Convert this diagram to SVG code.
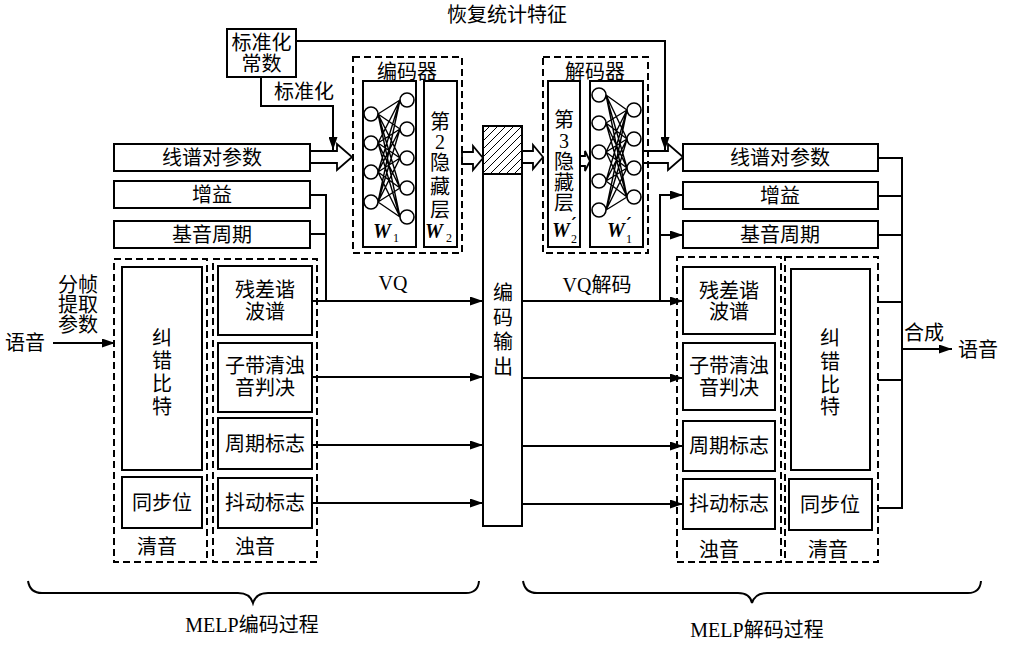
<svg xmlns="http://www.w3.org/2000/svg" width="1011" height="652" viewBox="0 0 1011 652">
<defs>
<style>
text{font-family:"Liberation Serif","Noto Sans CJK SC",serif;font-size:20px;fill:#000;text-anchor:middle;dominant-baseline:central}
.box{fill:#fff;stroke:#000;stroke-width:2}
.dash{fill:none;stroke:#000;stroke-width:2;stroke-dasharray:7,4}
.ln{fill:none;stroke:#000;stroke-width:2}
.hol{fill:#fff;stroke:#000;stroke-width:1.8;stroke-linejoin:miter}
.nn{fill:none;stroke:#000;stroke-width:1.4}
.nd{fill:#fff;stroke:#000;stroke-width:1.6}
.w{font-style:italic;font-weight:bold}
.sub{font-size:12px;font-style:normal;font-weight:normal}
.pr{font-family:"DejaVu Serif",serif;font-size:17px;font-weight:bold;font-style:italic}
</style>
<marker id="ah" markerWidth="13" markerHeight="9" refX="13" refY="4.5" orient="auto" markerUnits="userSpaceOnUse">
<path d="M0,0 L13,4.5 L0,9 z" fill="#000"/>
</marker>
<pattern id="hatch" width="8" height="8" patternUnits="userSpaceOnUse">
<path d="M-1,1 L1,-1 M0,8 L8,0 M7,9 L9,7" stroke="#000" stroke-width="1"/>
</pattern>
</defs>
<rect width="1011" height="652" fill="#fff"/>

<text x="507" y="15">恢复统计特征</text>

<g id="connectors">
<path class="ln" d="M296,41 H665 V150" marker-end="url(#ah)"/>
<path class="ln" d="M261,77 V106 H333 V150" marker-end="url(#ah)"/>
<path class="ln" d="M53,343 H115" marker-end="url(#ah)"/>
<path class="ln" d="M310,195 H326 V301"/>
<path class="ln" d="M310,234 H326"/>
<path class="ln" d="M312,301 H483" marker-end="url(#ah)"/>
<path class="ln" d="M312,377 H483" marker-end="url(#ah)"/>
<path class="ln" d="M312,445 H483" marker-end="url(#ah)"/>
<path class="ln" d="M312,503 H483" marker-end="url(#ah)"/>
<path class="ln" d="M522,301 H683" marker-end="url(#ah)"/>
<path class="ln" d="M522,378 H683" marker-end="url(#ah)"/>
<path class="ln" d="M522,446 H683" marker-end="url(#ah)"/>
<path class="ln" d="M522,504 H683" marker-end="url(#ah)"/>
<path class="ln" d="M660,301 V195 H683" marker-end="url(#ah)"/>
<path class="ln" d="M660,235 H683" marker-end="url(#ah)"/>
<path class="ln" d="M878,158 H902 M878,196 H902 M878,235 H902 M878,302 H902 M878,380 H902 M878,508 H902 M902,157 V509"/>
<path class="ln" d="M902,349 H952" marker-end="url(#ah)"/>
<polygon class="hol" points="310,151 337,151 337,144 352,157 337,170 337,163 310,163"/>
<polygon class="hol" points="462,152 473,152 473,146 483,158 473,170 473,164 462,164"/>
<polygon class="hol" points="522,151 533,151 533,145 543,157 533,169 533,163 522,163"/>
<polygon class="hol" points="580,156 585,156 585,151 590,161 585,171 585,166 580,166"/>
<polygon class="hol" points="643,151 668,151 668,144 683,157 668,170 668,163 643,163"/>
</g>

<g id="norm-const">
<rect class="box" x="227" y="29" width="69" height="48"/>
<text x="261.5" y="43">标准化</text>
<text x="261.5" y="64">常数</text>
</g>
<text x="304" y="92">标准化</text>

<g id="lsp-in"><rect class="box" x="114" y="144" width="196" height="27"/><text x="212" y="157.5">线谱对参数</text></g>
<g id="gain-in"><rect class="box" x="114" y="181" width="196" height="27"/><text x="212" y="194.5">增益</text></g>
<g id="pitch-in"><rect class="box" x="114" y="221" width="196" height="27"/><text x="212" y="234.5">基音周期</text></g>

<text x="25" y="343">语音</text>
<text x="78" y="285">分帧</text>
<text x="78" y="305">提取</text>
<text x="78" y="325">参数</text>

<g id="unvoiced-enc">
<rect class="dash" x="114" y="259" width="93" height="303"/>
<rect class="box" x="122" y="267" width="80" height="203"/>
<text x="162" y="338">纠</text><text x="162" y="361">错</text><text x="162" y="384">比</text><text x="162" y="407">特</text>
<rect class="box" x="122" y="477" width="80" height="51"/>
<text x="162" y="503">同步位</text>
<text x="157" y="547">清音</text>
</g>

<g id="voiced-enc">
<rect class="dash" x="213" y="259" width="104" height="303"/>
<rect class="box" x="218" y="266" width="94" height="69"/>
<text x="265" y="290">残差谐</text><text x="265" y="312">波谱</text>
<rect class="box" x="218" y="343" width="94" height="69"/>
<text x="265" y="366">子带清浊</text><text x="265" y="388">音判决</text>
<rect class="box" x="218" y="418" width="94" height="51"/>
<text x="265" y="443.5">周期标志</text>
<rect class="box" x="218" y="478" width="94" height="50"/>
<text x="265" y="503">抖动标志</text>
<text x="255" y="547">浊音</text>
</g>

<text x="393" y="283">VQ</text>

<g id="encoder">
<rect class="dash" x="353" y="57" width="109" height="196"/>
<text x="407" y="72">编码器</text>
<rect class="box" x="363" y="81" width="53" height="166"/>
<path class="nn" d="M378,114 L400,100 M378,114 L400,129 M378,114 L400,158 M378,114 L400,188 M378,114 L400,217 M378,143 L400,100 M378,143 L400,129 M378,143 L400,158 M378,143 L400,188 M378,143 L400,217 M378,172 L400,100 M378,172 L400,129 M378,172 L400,158 M378,172 L400,188 M378,172 L400,217 M378,202 L400,100 M378,202 L400,129 M378,202 L400,158 M378,202 L400,188 M378,202 L400,217"/>
<circle class="nd" cx="371" cy="114" r="7"/><circle class="nd" cx="371" cy="143" r="7"/><circle class="nd" cx="371" cy="172" r="7"/><circle class="nd" cx="371" cy="202" r="7"/>
<circle class="nd" cx="407" cy="100" r="7"/><circle class="nd" cx="407" cy="129" r="7"/><circle class="nd" cx="407" cy="158" r="7"/><circle class="nd" cx="407" cy="188" r="7"/><circle class="nd" cx="407" cy="217" r="7"/>
<text class="w" x="382" y="231">W<tspan class="sub" x="396" y="238">1</tspan></text>
<rect class="box" x="424" y="81" width="33" height="166"/>
<text x="440" y="122">第</text><text x="440" y="142">2</text><text x="440" y="163">隐</text><text x="440" y="187">藏</text><text x="440" y="210">层</text>
<text class="w" x="434" y="231">W<tspan class="sub" x="449" y="238">2</tspan></text>
</g>

<g id="code-out">
<rect class="box" x="483" y="126" width="39" height="400"/>
<rect x="483" y="126" width="39" height="48" fill="url(#hatch)" stroke="#000" stroke-width="2"/>
<text x="503" y="293">编</text><text x="503" y="318">码</text><text x="503" y="342">输</text><text x="503" y="367">出</text>
</g>

<text x="597" y="285">VQ解码</text>

<g id="decoder">
<rect class="dash" x="543" y="57" width="105" height="196"/>
<text x="595" y="72">解码器</text>
<rect class="box" x="548" y="81" width="32" height="166"/>
<text x="564" y="120">第</text><text x="564" y="141">3</text><text x="564" y="162">隐</text><text x="564" y="183">藏</text><text x="564" y="203">层</text>
<text class="w" x="561" y="230">W<tspan class="pr" x="574" y="223">′</tspan><tspan class="sub" x="574" y="239">2</tspan></text>
<rect class="box" x="590" y="81" width="53" height="166"/>
<path class="nn" d="M606,95 L627,110 M606,95 L627,139 M606,95 L627,168 M606,95 L627,197 M606,123 L627,110 M606,123 L627,139 M606,123 L627,168 M606,123 L627,197 M606,152 L627,110 M606,152 L627,139 M606,152 L627,168 M606,152 L627,197 M606,181 L627,110 M606,181 L627,139 M606,181 L627,168 M606,181 L627,197 M606,210 L627,110 M606,210 L627,139 M606,210 L627,168 M606,210 L627,197"/>
<circle class="nd" cx="599" cy="95" r="7"/><circle class="nd" cx="599" cy="123" r="7"/><circle class="nd" cx="599" cy="152" r="7"/><circle class="nd" cx="599" cy="181" r="7"/><circle class="nd" cx="599" cy="210" r="7"/>
<circle class="nd" cx="634" cy="110" r="7"/><circle class="nd" cx="634" cy="139" r="7"/><circle class="nd" cx="634" cy="168" r="7"/><circle class="nd" cx="634" cy="197" r="7"/>
<text class="w" x="616" y="230">W<tspan class="pr" x="629" y="223">′</tspan><tspan class="sub" x="629" y="239">1</tspan></text>
</g>

<g id="lsp-out"><rect class="box" x="683" y="144" width="195" height="27"/><text x="780" y="157.5">线谱对参数</text></g>
<g id="gain-out"><rect class="box" x="683" y="182" width="195" height="27"/><text x="780" y="195.5">增益</text></g>
<g id="pitch-out"><rect class="box" x="683" y="221" width="195" height="27"/><text x="780" y="234.5">基音周期</text></g>

<g id="voiced-dec">
<rect class="dash" x="677" y="257" width="104" height="305"/>
<rect class="box" x="683" y="267" width="92" height="67"/>
<text x="729" y="291">残差谐</text><text x="729" y="312">波谱</text>
<rect class="box" x="683" y="343" width="92" height="67"/>
<text x="729" y="366">子带清浊</text><text x="729" y="388">音判决</text>
<rect class="box" x="683" y="421" width="92" height="50"/>
<text x="729" y="446">周期标志</text>
<rect class="box" x="683" y="479" width="92" height="50"/>
<text x="729" y="504">抖动标志</text>
<text x="719" y="550">浊音</text>
</g>

<g id="unvoiced-dec">
<rect class="dash" x="785" y="257" width="93" height="305"/>
<rect class="box" x="791" y="269" width="79" height="201"/>
<text x="830" y="338">纠</text><text x="830" y="362">错</text><text x="830" y="385">比</text><text x="830" y="407">特</text>
<rect class="box" x="789" y="479" width="83" height="51"/>
<text x="830" y="505">同步位</text>
<text x="828" y="550">清音</text>
</g>

<text x="924" y="333">合成</text>
<text x="978" y="350">语音</text>

<g id="braces">
<path class="ln" stroke-width="1.6" d="M28,581 Q30,593 42,593 L238,593 Q250,593 253,603 Q256,593 268,593 L466,593 Q478,593 479,581"/>
<path class="ln" stroke-width="1.6" d="M523,581 Q525,593 537,593 L738,593 Q750,593 752,603 Q755,593 767,593 L968,593 Q980,593 981,581"/>
</g>
<text x="252" y="625">MELP编码过程</text>
<text x="757" y="630">MELP解码过程</text>
</svg>
